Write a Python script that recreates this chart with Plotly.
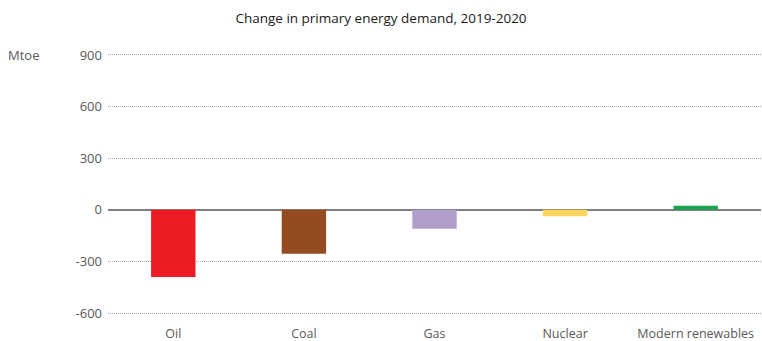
import plotly.graph_objects as go

categories = ["Oil", "Coal", "Gas", "Nuclear", "Modern renewables"]
values = [-391, -256, -110, -37, 23]
colors = ["#ED1C24", "#954B22", "#B09FCA", "#FCD55F", "#1AA24C"]
tick_vals = [-600, -300, 0, 300, 600, 900]
tick_text = ["-600", "-300", "0", "300", "600", "900"]
title = "Change in primary energy demand, 2019-2020"
unit = "Mtoe"

FONT = "Open Sans, DejaVu Sans, sans-serif"

fig = go.Figure(go.Bar(
    x=categories, y=values, marker=dict(color=colors, line=dict(width=0)),
    width=0.34, hoverinfo="x+y",
))

fig.update_layout(
    width=762, height=341,
    margin=dict(l=108, r=1, t=53, b=26),
    paper_bgcolor="white", plot_bgcolor="white",
    showlegend=False,
    font=dict(family=FONT, color="#595959", size=12.5),
    title=dict(text=title, x=0.5, xanchor="center", y=0.945, yanchor="middle",
               font=dict(family=FONT, size=13.5, color="#1a1a1a")),
    xaxis=dict(showgrid=False, showline=False, ticks="", zeroline=False,
               ticklabelstandoff=9, automargin=False,
               tickfont=dict(size=12.5, color="#595959")),
    yaxis=dict(range=[-611.5, 911.5], tickvals=tick_vals, ticktext=tick_text,
               showgrid=True, gridcolor="#A8A8A8", griddash="1px,1px", gridwidth=1,
               zeroline=True, zerolinecolor="#7F7F7F", zerolinewidth=2,
               showline=False, ticks="", ticklabelstandoff=5, automargin=False,
               tickfont=dict(size=13, color="#595959")),
    annotations=[dict(text=unit, xref="paper", yref="paper", x=-0.156, y=0.9935,
                      xanchor="left", yanchor="middle", showarrow=False,
                      font=dict(family=FONT, size=13, color="#595959"))],
)

fig.write_html("out.html", config={"displayModeBar": False},
               post_script="document.body.style.margin='0';")
